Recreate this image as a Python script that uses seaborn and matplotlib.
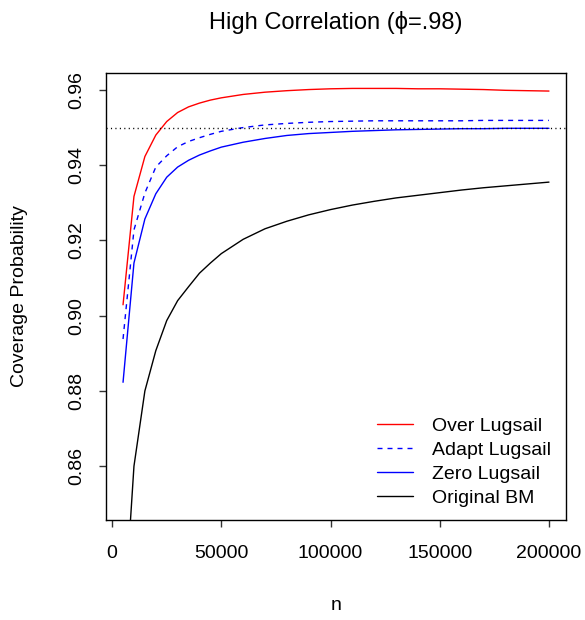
import matplotlib
matplotlib.use("Agg")
import matplotlib.pyplot as plt
import seaborn as sns
import pandas as pd

n = [5000, 10000, 15000, 20000, 25000, 30000, 35000, 40000, 45000, 50000,
     60000, 70000, 80000, 90000, 100000, 110000, 120000, 130000, 140000, 150000,
     160000, 170000, 180000, 190000, 200000]

over_lugsail = [0.9029, 0.9317, 0.9423, 0.9480, 0.9516, 0.9540, 0.9555, 0.9565, 0.9573, 0.9579,
                0.9588, 0.9594, 0.9598, 0.9601, 0.9603, 0.9604, 0.9604, 0.9604, 0.9603, 0.9603,
                0.9602, 0.9601, 0.9599, 0.9598, 0.9597]
adapt_lugsail = [0.8938, 0.9228, 0.9326, 0.9395, 0.9425, 0.9449, 0.9463, 0.9473, 0.9482, 0.9490,
                 0.9500, 0.9507, 0.9511, 0.9514, 0.9516, 0.9517, 0.9518, 0.9518, 0.9518, 0.9518,
                 0.9518, 0.9519, 0.9519, 0.9519, 0.9519]
zero_lugsail = [0.8823, 0.9140, 0.9257, 0.9324, 0.9368, 0.9395, 0.9413, 0.9427, 0.9438, 0.9448,
                0.9461, 0.9471, 0.9479, 0.9484, 0.9487, 0.9490, 0.9492, 0.9494, 0.9495, 0.9496,
                0.9497, 0.9497, 0.9498, 0.9498, 0.9498]
original_bm = [0.8150, 0.8600, 0.8800, 0.8907, 0.8987, 0.9040, 0.9077, 0.9113, 0.9140, 0.9165,
               0.9203, 0.9231, 0.9251, 0.9268, 0.9282, 0.9294, 0.9304, 0.9313, 0.9320, 0.9327,
               0.9334, 0.9340, 0.9345, 0.9350, 0.9355]

labels = ["Over Lugsail", "Adapt Lugsail", "Zero Lugsail", "Original BM"]
colors = ["#FF0000", "#0000FF", "#0000FF", "#000000"]
styles = ["-", (0, (3.6, 3.6)), "-", "-"]
series = [over_lugsail, adapt_lugsail, zero_lugsail, original_bm]

x_ticks = [0, 50000, 100000, 150000, 200000]
y_ticks = [0.86, 0.88, 0.90, 0.92, 0.94, 0.96]
title = "High Correlation (\u03d5=.98)"

sns.set_theme(style="ticks")
plt.rcParams["font.family"] = ["Liberation Sans", "DejaVu Sans"]
plt.rcParams["text.color"] = "black"
plt.rcParams["axes.labelcolor"] = "black"
plt.rcParams["xtick.color"] = "black"
plt.rcParams["ytick.color"] = "black"

fig = plt.figure(figsize=(5.85, 6.2), dpi=100)
ax = fig.add_axes([106 / 585, 1 - 520 / 620, 460 / 585, 447 / 620])

for lab, col, ls, vals in zip(labels, colors, styles, series):
    df = pd.DataFrame({"n": n, "p": vals})
    sns.lineplot(data=df, x="n", y="p", ax=ax, color=col, linestyle=ls,
                 linewidth=1.0, label=lab, estimator=None, sort=False)

ax.axhline(0.95, color="black", linestyle=(0, (0.8, 2.4)), linewidth=1.0)

ax.set_xlim(-2800, 207800)
ax.set_ylim(0.8457, 0.9645)
ax.set_xticks(x_ticks)
ax.set_xticklabels([str(t) for t in x_ticks])
ax.set_yticks(y_ticks)
ax.set_yticklabels([f"{t:.2f}" for t in y_ticks], rotation=90, va="center")

for s in ax.spines.values():
    s.set_visible(True)
    s.set_color("black")
    s.set_linewidth(1.0)

ax.tick_params(axis="both", direction="out", length=5, width=1, color="#333333",
               labelsize=14, labelcolor="black")
ax.tick_params(axis="x", pad=13)
ax.tick_params(axis="y", pad=10)

ax.set_xlabel("n", fontsize=14, color="black")
ax.set_ylabel("Coverage Probability", fontsize=14, color="black")
ax.xaxis.set_label_coords(0.5, (520 - 606) / 447)
ax.xaxis.label.set_va("center")
ax.yaxis.set_label_coords((20 - 106) / 460, 0.5)
ax.yaxis.label.set_va("center")

ax.text(0.5, (520 - 22) / 447, title, transform=ax.transAxes, ha="center",
        va="center", fontsize=17, color="black")

leg = ax.legend(loc="upper left", bbox_to_anchor=((377 - 106) / 460, (520 - 417) / 447),
                frameon=False, fontsize=14, handlelength=1.85, handletextpad=1.0,
                labelspacing=0.33, borderpad=0, borderaxespad=0)
for t in leg.get_texts():
    t.set_color("black")

fig.savefig("out.png", dpi=100, facecolor="white")
